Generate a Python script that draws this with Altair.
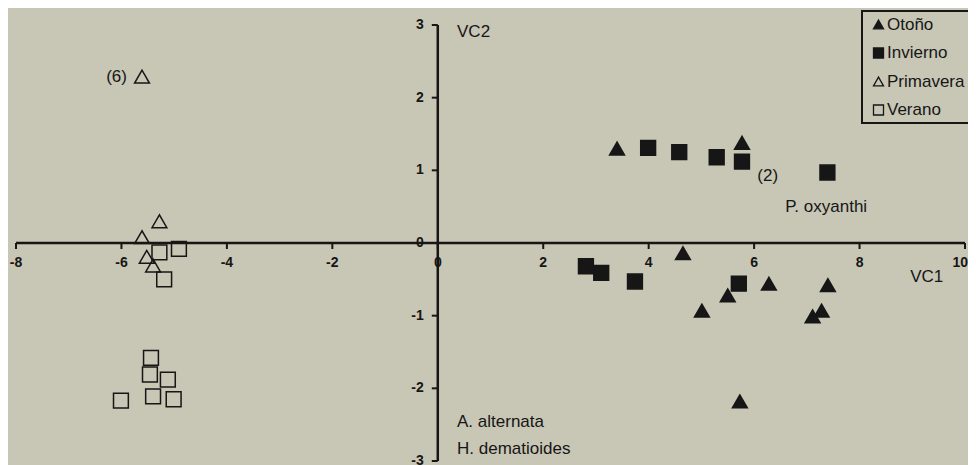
import altair as alt
import pandas as pd

seasons = ["Otoño", "Invierno", "Primavera", "Verano"]

otono_x = [3.40, 5.77, 4.65, 5.01, 5.50, 6.28, 7.40, 7.28, 7.11, 5.73]
otono_y = [1.30, 1.38, -0.14, -0.93, -0.72, -0.56, -0.58, -0.93, -1.01, -2.18]
invierno_x = [3.99, 4.58, 5.29, 5.77, 7.39, 2.81, 3.10, 3.74, 5.71]
invierno_y = [1.31, 1.25, 1.18, 1.12, 0.97, -0.32, -0.41, -0.53, -0.56]
primavera_x = [-5.61, -5.28, -5.61, -5.52, -5.40]
primavera_y = [2.29, 0.30, 0.08, -0.19, -0.31]
verano_x = [-5.28, -4.91, -5.19, -5.44, -5.46, -5.12, -6.01, -5.40, -5.01]
verano_y = [-0.13, -0.08, -0.50, -1.58, -1.81, -1.88, -2.17, -2.11, -2.15]

x_ticks = [-8, -6, -4, -2, 0, 2, 4, 6, 8, 10]
y_ticks = [-3, -2, -1, 0, 1, 2, 3]

ann_text = ["(6)", "(2)", "P. oxyanthi", "A. alternata", "H. dematioides", "VC2", "VC1"]
ann_x = [-6.29, 6.06, 6.59, 0.365, 0.365, 0.365, 8.96]
ann_y = [2.29, 0.92, 0.50, -2.47, -2.83, 2.91, -0.47]

INK = "#161616"
BG = "#c8c6b5"
FONT = "Liberation Sans"

rows = []
for name, xs_, ys_ in [("Otoño", otono_x, otono_y), ("Invierno", invierno_x, invierno_y),
                       ("Primavera", primavera_x, primavera_y), ("Verano", verano_x, verano_y)]:
    for a, b in zip(xs_, ys_):
        rows.append({"season": name, "x": a, "y": b})
pts_df = pd.DataFrame(rows)

xs = alt.Scale(domain=[-8.152, 10.057], nice=False, zero=False)
ys = alt.Scale(domain=[-3.055, 3.234], nice=False, zero=False)

leg = alt.Legend(title=None, orient="none", legendX=854, legendY=3)
points = alt.Chart(pts_df).mark_point(strokeWidth=1.5, opacity=1, fillOpacity=1, size=220).encode(
    x=alt.X("x:Q", scale=xs, axis=None),
    y=alt.Y("y:Q", scale=ys, axis=None),
    shape=alt.Shape("season:N", scale=alt.Scale(domain=seasons,
                    range=["triangle-up", "square", "triangle-up", "square"]), legend=leg),
    fill=alt.Fill("season:N", scale=alt.Scale(domain=seasons,
                  range=[INK, INK, "transparent", "transparent"]), legend=leg),
    stroke=alt.Stroke("season:N", scale=alt.Scale(domain=seasons,
                      range=[INK, INK, INK, INK]), legend=leg),
)

xaxis_df = pd.DataFrame({"x": [min(x_ticks)], "x2": [max(x_ticks)], "y": [0]})
yaxis_df = pd.DataFrame({"x": [0], "y": [min(y_ticks)], "y2": [max(y_ticks)]})

xaxis = alt.Chart(xaxis_df).mark_rule(strokeWidth=2.5, color=INK).encode(
    x=alt.X("x:Q", scale=xs, axis=None), x2="x2:Q", y=alt.Y("y:Q", scale=ys, axis=None))
yaxis = alt.Chart(yaxis_df).mark_rule(strokeWidth=2.5, color=INK).encode(
    x=alt.X("x:Q", scale=xs, axis=None), y=alt.Y("y:Q", scale=ys, axis=None), y2="y2:Q")

xt_df = pd.DataFrame({"t": x_ticks, "z": [0] * len(x_ticks), "lab": [str(v) for v in x_ticks]})
yt_df = pd.DataFrame({"t": y_ticks, "z": [0] * len(y_ticks), "lab": [str(v) for v in y_ticks]})
xmax = max(x_ticks)

xticks = alt.Chart(xt_df).mark_tick(orient="vertical", size=6, thickness=2, yOffset=3, color=INK, opacity=1).encode(
    x=alt.X("t:Q", scale=xs, axis=None), y=alt.Y("z:Q", scale=ys, axis=None))
yticks = alt.Chart(yt_df).mark_tick(orient="horizontal", size=6, thickness=2, xOffset=-3, color=INK, opacity=1).encode(
    y=alt.Y("t:Q", scale=ys, axis=None), x=alt.X("z:Q", scale=xs, axis=None))

xlabels = alt.Chart(xt_df).transform_filter(f"datum.t < {xmax}").mark_text(
    dy=20, font=FONT, fontSize=14, fontWeight="bold",
    color=INK, baseline="middle", align="center").encode(
    x=alt.X("t:Q", scale=xs, axis=None), y=alt.Y("z:Q", scale=ys, axis=None), text="lab:N")
xlabel_last = alt.Chart(xt_df).transform_filter(f"datum.t >= {xmax}").mark_text(
    dy=20, dx=3, font=FONT, fontSize=14, fontWeight="bold",
    color=INK, baseline="middle", align="right").encode(
    x=alt.X("t:Q", scale=xs, axis=None), y=alt.Y("z:Q", scale=ys, axis=None), text="lab:N")
ylabels = alt.Chart(yt_df).mark_text(dx=-14, font=FONT, fontSize=14, fontWeight="bold",
                                     color=INK, baseline="middle", align="right").encode(
    y=alt.Y("t:Q", scale=ys, axis=None), x=alt.X("z:Q", scale=xs, axis=None), text="lab:N")

ann_df = pd.DataFrame({"x": ann_x, "y": ann_y, "txt": ann_text})
annots = alt.Chart(ann_df).mark_text(font=FONT, fontSize=17, color=INK, align="left", baseline="middle").encode(
    x=alt.X("x:Q", scale=xs, axis=None), y=alt.Y("y:Q", scale=ys, axis=None), text="txt:N")

chart = alt.layer(xaxis, yaxis, xticks, yticks, xlabels, xlabel_last, ylabels, annots, points).properties(
    width=960, height=457, autosize=alt.AutoSizeParams(type="none"), padding=0
).configure(background=BG).configure_view(strokeWidth=0).configure_legend(
    labelFont=FONT, labelFontSize=17, labelColor=INK, labelOffset=0,
    symbolSize=100, symbolStrokeWidth=1.3, symbolStrokeColor=INK,
    strokeColor=INK, strokeWidth=2, fillColor=BG, padding=5, rowPadding=10.5,
    cornerRadius=0, symbolOffset=3,
)

chart.save("out.html", embed_options={"renderer": "svg", "actions": False})
